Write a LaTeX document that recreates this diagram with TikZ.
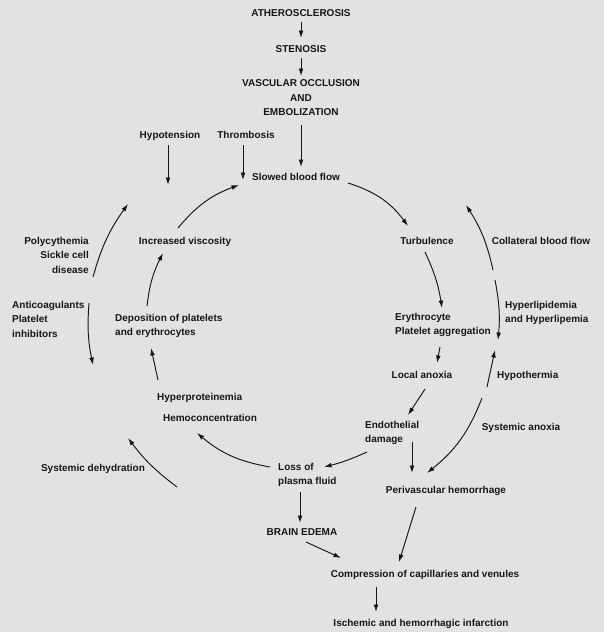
\documentclass[tikz,border=0pt]{standalone}
\usepackage{fontspec}
\setmainfont{Liberation Sans}
\usetikzlibrary{arrows.meta,calc}
\definecolor{bgc}{RGB}{226,226,226}
\definecolor{ink}{RGB}{22,22,22}
\tikzset{
  lbl/.style={inner sep=0pt, text=ink, font=\fontsize{10}{14.5}\selectfont\bfseries, text height=7.2pt, text depth=0pt},
  mlbl/.style={inner sep=0pt, text=ink, font=\fontsize{10}{14.5}\selectfont\bfseries, align=left},
  mlblr/.style={inner sep=0pt, text=ink, font=\fontsize{10}{14.5}\selectfont\bfseries, align=right},
  mlblc/.style={inner sep=0pt, text=ink, font=\fontsize{10}{14.5}\selectfont\bfseries, align=center},
  arr/.style={draw=ink, line width=0.95pt, -{Latex[length=7.5pt,width=4.8pt]}},
}
\begin{document}
\begin{tikzpicture}[x=1pt,y=-1pt]
\fill[bgc] (0,0) rectangle (604,632);
\useasboundingbox (0,0) rectangle (604,632);
% nodes
\node[lbl] (ath) at (301,13) {ATHEROSCLEROSIS};
\node[lbl] (sten) at (301,49) {STENOSIS};
\node[mlblc] (vasc) at (301,98) {VASCULAR OCCLUSION\\AND\\EMBOLIZATION};
\node[lbl] (hypot) at (170,135) {Hypotension};
\node[lbl] (thromb) at (246,135) {Thrombosis};
\node[lbl] (slow) at (296,177) {Slowed blood flow};
\node[lbl] (visc) at (185,241) {Increased viscosity};
\node[lbl] (turb) at (427,241) {Turbulence};
\node[lbl] (coll) at (541,241) {Collateral blood flow};
\node[mlblr, anchor=east] (poly) at (89,255) {Polycythemia\\Sickle cell\\disease};
\node[mlbl, anchor=west] (anti) at (12,319) {Anticoagulants\\Platelet\\inhibitors};
\node[mlbl, anchor=west] (depo) at (115,326) {Deposition of platelets\\and erythrocytes};
\node[mlbl, anchor=west] (eryth) at (395,325) {Erythrocyte\\Platelet aggregation};
\node[mlbl, anchor=west] (hlip) at (505,313) {Hyperlipidemia\\and Hyperlipemia};
\node[lbl] (local) at (422,375) {Local anoxia};
\node[lbl, anchor=west] (hypoth) at (497,375) {Hypothermia};
\node[lbl, anchor=west] (hprot) at (157,397) {Hyperproteinemia};
\node[lbl] (hemo) at (210,418) {Hemoconcentration};
\node[mlbl, anchor=west] (endo) at (365,433) {Endothelial\\damage};
\node[lbl] (sanox) at (521,427) {Systemic anoxia};
\node[lbl] (sdehy) at (93,468) {Systemic dehydration};
\node[mlbl, anchor=west] (loss) at (278,475) {Loss of\\plasma fluid};
\node[lbl] (peri) at (446,490) {Perivascular hemorrhage};
\node[lbl] (edema) at (302,532) {BRAIN EDEMA};
\node[lbl] (comp) at (425,574) {Compression of capillaries and venules};
\node[lbl] (isch) at (421,623) {Ischemic and hemorrhagic infarction};
% free ends
\coordinate (hypE) at (168,185);
\coordinate (thrE) at (243,180);
\coordinate (polyS) at (93,277);
\coordinate (polyE) at (128,204);
\coordinate (antiS) at (89,303);
\coordinate (antiE) at (93,365);
\coordinate (dehyS) at (177,487);
\coordinate (dehyE) at (128,438);
\coordinate (collS) at (493,270);
\coordinate (collE) at (466,205);
\coordinate (hlipS) at (495,280);
\coordinate (hlipE) at (498,340);
\coordinate (hthS) at (487,387);
\coordinate (hthE) at (495,350);
\coordinate (sanS) at (482,398);
\coordinate (sanE) at (427,473);
% main chain
\draw[arr] ($(ath)+(0,9)$) -- ($(sten)+(0,-11)$);
\draw[arr] ($(sten)+(0,9)$) -- ($(vasc)+(0,-22)$);
\draw[arr] ($(vasc)+(0,27)$) -- ($(slow)+(5,-10)$);
\draw[arr] ($(hypot)+(-2,10)$) -- (hypE);
\draw[arr] ($(thromb)+(-3,10)$) -- (thrE);
\draw[arr] ($(visc)+(-7,-13)$) to[bend left=15] ($(slow)+(-57,8)$);
\draw[arr] ($(slow)+(52,6)$) to[bend left=18] ($(turb)+(-19,-15)$);
\draw[arr] ($(turb)+(-2,11)$) to[bend left=8] ($(eryth.west)+(47,-17)$);
\draw[arr] ($(eryth.west)+(45,22)$) -- ($(local)+(15,-12)$);
\draw[arr] ($(local)+(3,14)$) -- ($(endo.west)+(43,-18)$);
\draw[arr] ($(endo.west)+(2,19)$) to[bend left=5] ($(loss.west)+(46,-8)$);
\draw[arr] ($(loss.west)+(-8,-8)$) to[bend left=15] ($(hemo)+(-13,15)$);
\draw[arr] ($(hprot.west)+(1,-17)$) -- ($(depo.west)+(36,22)$);
\draw[arr] ($(depo.west)+(32,-20)$) to[bend left=10] ($(visc)+(-22,12)$);
\draw[arr] ($(endo.west)+(47,9)$) -- ($(peri)+(-34,-17)$);
\draw[arr] ($(peri)+(-30,17)$) -- ($(comp)+(-26,-12)$);
\draw[arr] ($(loss.west)+(22,17)$) -- ($(edema)+(-2,-9)$);
\draw[arr] ($(edema)+(4,10)$) -- ($(comp)+(-84,-16)$);
\draw[arr] ($(comp)+(-49,13)$) -- ($(isch)+(-45,-11)$);
% outer arcs
\draw[arr] (polyS) to[bend left=10] (polyE);
\draw[arr] (antiS) to[bend right=8] (antiE);
\draw[arr] (dehyS) to[bend left=8] (dehyE);
\draw[arr] (collS) to[bend right=10] (collE);
\draw[arr] (hlipS) to[bend left=8] (hlipE);
\draw[arr] (hthS) -- (hthE);
\draw[arr] (sanS) to[bend left=15] (sanE);
\end{tikzpicture}
\end{document}
